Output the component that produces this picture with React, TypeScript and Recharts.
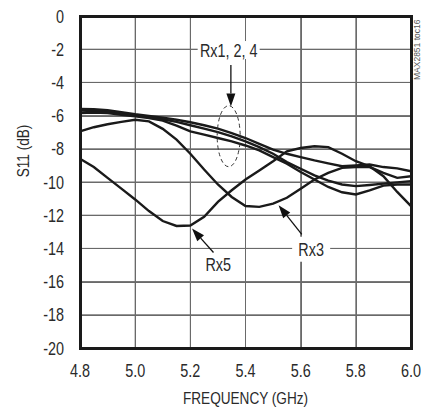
import {
  LineChart, Line, XAxis, YAxis, CartesianGrid,
  ReferenceDot, ReferenceLine,
} from 'recharts';

const FONT = "'Liberation Sans', Arial, sans-serif";
const SQUEEZE = 0.8; // condensed look of the original typeface

// frequency (GHz), 50 MHz steps
const FREQ = [
  4.8, 4.85, 4.9, 4.95, 5.0, 5.05, 5.1, 5.15, 5.2, 5.25, 5.3, 5.35, 5.4,
  5.45, 5.5, 5.55, 5.6, 5.65, 5.7, 5.75, 5.8, 5.85, 5.9, 5.95, 6.0,
];

// S11 (dB) per receiver
const RX1 = [
  -5.6, -5.62, -5.68, -5.8, -5.92, -6.02, -6.12, -6.25, -6.4, -6.58, -6.78, -7.05, -7.35,
  -7.7, -8.05, -8.3, -8.5, -8.7, -8.88, -9.05, -9.0, -8.95, -9.1, -9.18, -9.35,
];
const RX2 = [
  -5.7, -5.72, -5.75, -5.85, -5.98, -6.08, -6.22, -6.38, -6.58, -6.78, -7.0, -7.25, -7.55,
  -7.9, -8.3, -8.8, -9.2, -9.6, -9.92, -10.15, -10.25, -10.18, -10.1, -10.02, -9.95,
];
const RX4 = [
  -5.85, -5.82, -5.85, -5.95, -6.05, -6.15, -6.3, -6.6, -6.95, -7.15, -7.35, -7.55, -7.8,
  -8.1, -8.5, -8.9, -9.4, -9.85, -10.3, -10.62, -10.75, -10.5, -10.22, -10.15, -10.15,
];
const RX3 = [
  -6.95, -6.7, -6.52, -6.38, -6.25, -6.35, -6.8, -7.45, -8.3, -9.25, -10.15, -10.9, -11.45,
  -11.5, -11.3, -10.95, -10.4, -9.85, -9.45, -9.15, -9.1, -9.1, -9.45, -9.75, -9.65,
];
const RX5 = [
  -8.6, -9.1, -9.75, -10.4, -11.05, -11.75, -12.35, -12.65, -12.62, -12.1, -11.2, -10.5, -9.85,
  -9.3, -8.75, -8.15, -7.95, -7.85, -7.9, -8.3, -8.75, -9.05, -9.65, -10.6, -11.45,
];

const X_TICKS = [4.8, 5.0, 5.2, 5.4, 5.6, 5.8, 6.0];
const Y_TICKS = [0, -2, -4, -6, -8, -10, -12, -14, -16, -18, -20];
const X_MIN = 4.8, X_MAX = 6.0, Y_MIN = -20, Y_MAX = 0;

const data = FREQ.map((f, i) => ({
  f, rx1: RX1[i], rx2: RX2[i], rx3: RX3[i], rx4: RX4[i], rx5: RX5[i],
}));

const SERIES = ['rx1', 'rx2', 'rx4', 'rx3', 'rx5'];

// chart box and plot area (layout only)
const W = 421, H = 407;
const M = { top: 16, right: 10, left: 0, bottom: 0 };
const Y_AXIS_W = 80, X_AXIS_H = 59;
const PLOT = {
  left: M.left + Y_AXIS_W,
  top: M.top,
  width: W - M.left - Y_AXIS_W - M.right,
  height: H - M.top - M.bottom - X_AXIS_H,
};
const COLS = X_TICKS.length - 1;
const ROWS = Y_TICKS.length - 1;

type TxtProps = {
  x: number; y: number; size: number; anchor?: 'start' | 'middle' | 'end';
  rotate?: number; children: string;
};

const Txt = ({ x, y, size, anchor = 'middle', rotate = 0, children }: TxtProps) => (
  <text
    transform={`translate(${x} ${y}) rotate(${rotate}) scale(${SQUEEZE} 1)`}
    textAnchor={anchor}
    dominantBaseline="central"
    fontFamily={FONT}
    fontSize={size}
    fill="#2a2a2a"
  >
    {children}
  </text>
);

// eslint-disable-next-line @typescript-eslint/no-explicit-any
const XTick = ({ x, y, payload }: any) => (
  <Txt x={x} y={y + 14} size={18}>{Number(payload.value).toFixed(1)}</Txt>
);

// eslint-disable-next-line @typescript-eslint/no-explicit-any
const YTick = ({ x, y, payload }: any) => (
  <Txt x={x - 8} y={y} size={18} anchor="end">{String(payload.value)}</Txt>
);

// eslint-disable-next-line @typescript-eslint/no-explicit-any
const XTitle = ({ viewBox }: any) => (
  <Txt x={viewBox.x + viewBox.width / 2} y={viewBox.y + 50} size={17}>FREQUENCY (GHz)</Txt>
);

// eslint-disable-next-line @typescript-eslint/no-explicit-any
const YTitle = ({ viewBox }: any) => (
  <Txt x={viewBox.x + 23} y={viewBox.y + 135} size={17} rotate={-90}>S11 (dB)</Txt>
);

// eslint-disable-next-line @typescript-eslint/no-explicit-any
const Arrow = (p: any) => {
  const { x1, y1, x2, y2 } = p;
  const dx = x2 - x1, dy = y2 - y1;
  const len = Math.sqrt(dx * dx + dy * dy) || 1;
  const ux = dx / len, uy = dy / len;
  const hl = 13, hw = 4.5;
  const bx = x2 - ux * hl, by = y2 - uy * hl;
  return (
    <g>
      <line x1={x1} y1={y1} x2={bx} y2={by} stroke="#111" strokeWidth={1.3} />
      <polygon
        points={`${x2},${y2} ${bx - uy * hw},${by + ux * hw} ${bx + uy * hw},${by - ux * hw}`}
        fill="#111"
      />
    </g>
  );
};

const makeTag = (text: string, w: number, h: number, bg: boolean) =>
  // eslint-disable-next-line @typescript-eslint/no-explicit-any
  (p: any) => (
    <g>
      {bg && <rect x={p.cx - w / 2} y={p.cy - h / 2} width={w} height={h} fill="#fff" />}
      <Txt x={p.cx} y={p.cy} size={18}>{text}</Txt>
    </g>
  );

// eslint-disable-next-line @typescript-eslint/no-explicit-any
const Ellipse = (p: any) => (
  <ellipse
    cx={p.cx} cy={p.cy} rx={11.5} ry={30.5}
    fill="none" stroke="#333" strokeWidth={1} strokeDasharray="4 3"
  />
);

const GRID_COLOR = '#6a6a6a';

const App = () => (
  <div style={{ position: 'absolute', left: 0, top: 0, width: W, height: H, background: '#fff' }}>
    {/* background grid, sits under the transparent chart svg */}
    <div
      style={{
        position: 'absolute',
        left: PLOT.left - 0.5,
        top: PLOT.top - 0.5,
        width: PLOT.width,
        height: PLOT.height,
        backgroundImage: [
          `repeating-linear-gradient(to right, ${GRID_COLOR} 0 1px, transparent 1px ${PLOT.width / COLS}px)`,
          `repeating-linear-gradient(to bottom, ${GRID_COLOR} 0 1px, transparent 1px ${PLOT.height / ROWS}px)`,
        ].join(', '),
      }}
    />
    <div style={{ position: 'absolute', left: 0, top: 0 }}>
      <LineChart width={W} height={H} data={data} margin={M}>
        <CartesianGrid stroke={GRID_COLOR} strokeWidth={1} />
        <XAxis
          dataKey="f"
          type="number"
          domain={[X_MIN, X_MAX]}
          ticks={X_TICKS}
          tick={<XTick />}
          axisLine={false}
          tickLine={false}
          height={X_AXIS_H}
          label={<XTitle />}
        />
        <YAxis
          type="number"
          domain={[Y_MIN, Y_MAX]}
          ticks={Y_TICKS}
          tick={<YTick />}
          axisLine={false}
          tickLine={false}
          width={Y_AXIS_W}
          label={<YTitle />}
        />

        <ReferenceDot x={5.339} y={-2.05} r={0} shape={makeTag('Rx1, 2, 4', 62, 18, true)} />
        <ReferenceDot x={5.638} y={-14.05} r={0} shape={makeTag('Rx3', 38, 25, true)} />

        {SERIES.map((k) => (
          <Line
            key={k}
            type="linear"
            dataKey={k}
            stroke="#1a1a1a"
            strokeWidth={2.4}
            dot={false}
            isAnimationActive={false}
          />
        ))}

        <ReferenceDot x={5.301} y={-14.95} r={0} shape={makeTag('Rx5', 30, 16, false)} />
        <ReferenceDot x={5.339} y={-7.24} r={0} shape={<Ellipse />} />

        <ReferenceLine segment={[{ x: 5.347, y: -2.95 }, { x: 5.347, y: -5.45 }]} shape={<Arrow />} />
        <ReferenceLine segment={[{ x: 5.284, y: -14.25 }, { x: 5.206, y: -12.8 }]} shape={<Arrow />} />
        <ReferenceLine segment={[{ x: 5.604, y: -13.15 }, { x: 5.52, y: -11.4 }]} shape={<Arrow />} />
      </LineChart>
    </div>
    {/* heavy frame around the plot area */}
    <div
      style={{
        position: 'absolute',
        left: PLOT.left - 1.5,
        top: PLOT.top - 1.5,
        width: PLOT.width + 3,
        height: PLOT.height + 3,
        border: '3px solid #1a1a1a',
        boxSizing: 'border-box',
        pointerEvents: 'none',
      }}
    />
    <div
      style={{
        position: 'absolute', left: 412, top: 16, height: 68,
        writingMode: 'vertical-rl', transform: 'rotate(180deg)',
        fontFamily: FONT, fontSize: 8.5, color: '#555', textAlign: 'center',
      }}
    >
      MAX2851 toc16
    </div>
  </div>
);

export default App;
